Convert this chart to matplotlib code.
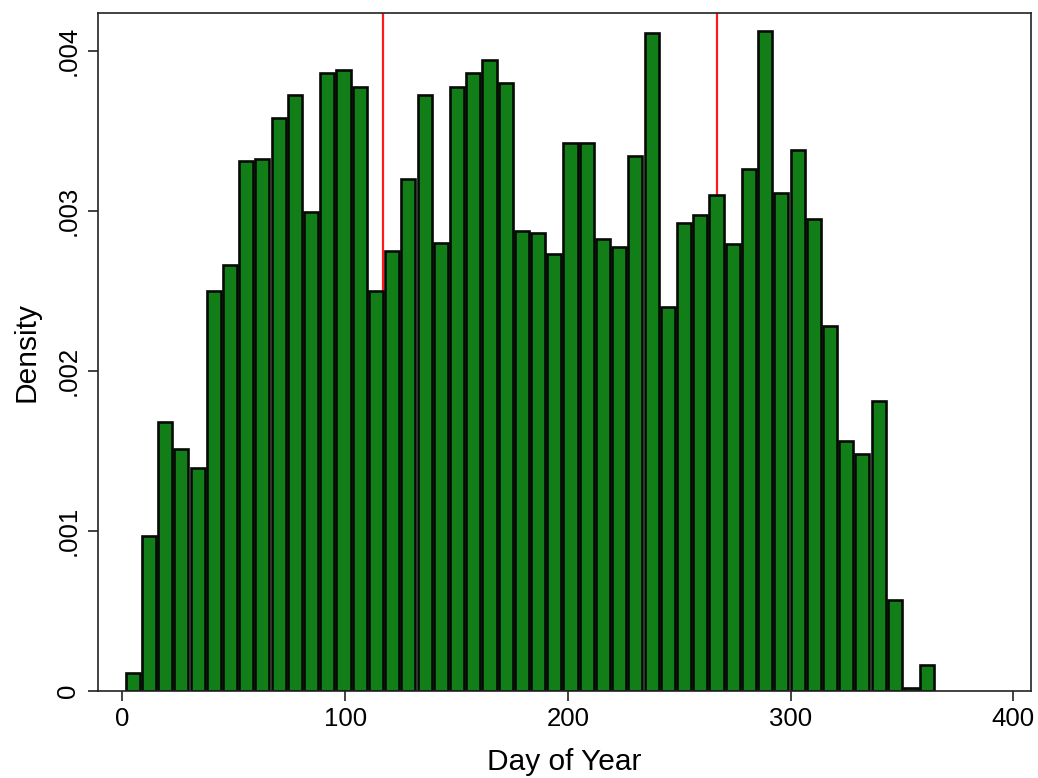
import numpy as np
import matplotlib
matplotlib.use("Agg")
import matplotlib.pyplot as plt

plt.rcParams['font.family'] = ['Liberation Sans', 'DejaVu Sans']

# histogram of day of year, 50 bins from day 1 to day 365
bin_start = 1
bin_end = 365
density = [
    0.000112, 0.000964, 0.00168, 0.00151, 0.00139, 0.00250, 0.00266, 0.00331,
    0.00332, 0.00358, 0.00372, 0.00299, 0.00386, 0.00388, 0.00377, 0.00250,
    0.00275, 0.00320, 0.00372, 0.00280, 0.00377, 0.00386, 0.00394, 0.00380,
    0.00287, 0.00286, 0.00273, 0.00342, 0.00342, 0.00282, 0.00277, 0.00334,
    0.00411, 0.00240, 0.00292, 0.00297, 0.00310, 0.00279, 0.00326, 0.00412,
    0.00311, 0.00338, 0.00295, 0.00228, 0.00156, 0.00148, 0.00181, 0.00057,
    0.00002, 0.00016,
]
ref_days = [117, 267]

x_ticks = [0, 100, 200, 300, 400]
y_ticks = [0, 0.001, 0.002, 0.003, 0.004]
y_tick_labels = ['0', '.001', '.002', '.003', '.004']

edges = np.linspace(bin_start, bin_end, len(density) + 1)
centers = (edges[:-1] + edges[1:]) / 2
bw = edges[1] - edges[0]

fig = plt.figure(figsize=(10.38, 7.78), dpi=100)
ax = fig.add_axes([0.0947, 0.1122, 0.993 - 0.0947, 0.983 - 0.1122])

for d in ref_days:
    ax.axvline(d, color='#ff1a1a', lw=1.6, zorder=1)

ax.bar(centers, density, width=bw * 0.87, color='#117e17',
       edgecolor='#050a05', linewidth=1.9, zorder=2)

ax.set_xlim(-10.8, 407.8)
ax.set_ylim(0, 0.004234)
ax.set_xticks(x_ticks)
ax.set_xticklabels([str(t) for t in x_ticks])
ax.set_yticks(y_ticks)
ax.set_yticklabels(y_tick_labels, rotation=90, va='center')

ax.tick_params(axis='both', direction='out', length=7, width=1.2,
               labelsize=18.5, color='#222222')
ax.tick_params(axis='x', pad=5)
ax.tick_params(axis='y', pad=6)

for s in ax.spines.values():
    s.set_linewidth(1.2)
    s.set_color('#222222')

ax.set_xlabel('Day of Year', fontsize=21.5, labelpad=12)
ax.set_ylabel('Density', fontsize=21.5, labelpad=11)

fig.savefig('out.png', dpi=100)
